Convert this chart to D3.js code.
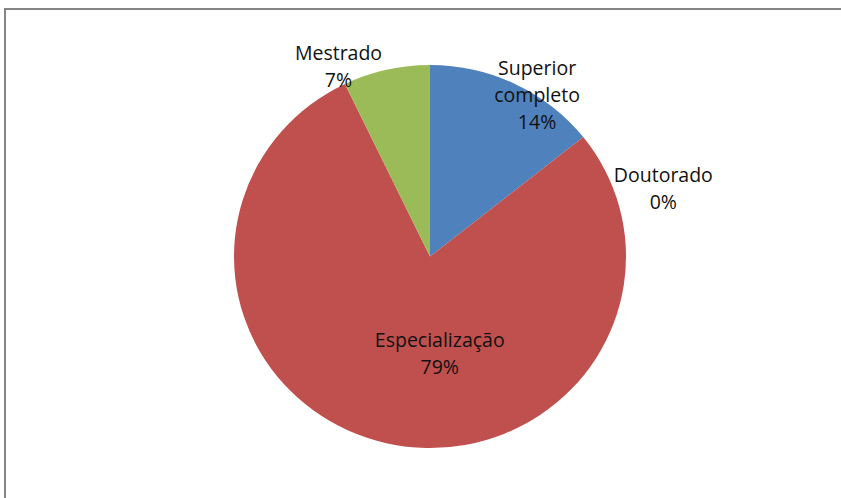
<!DOCTYPE html>
<html lang="pt">
<head>
<meta charset="UTF-8"/>
<title>Escolaridade</title>
<script src="https://d3js.org/d3.v7.min.js"></script>
<style>
  html, body { margin: 0; background: #fff; overflow: hidden; }
  svg { display: block; }
  text.label {
    font-family: "Open Sans", sans-serif;
    font-size: 19.5px;
    fill: #111;
  }
</style>
</head>
<body>
<svg width="841" height="498"></svg>
<script>
// data
const categories = ['Superior completo', 'Doutorado', 'Especialização', 'Mestrado'];
const counts = [2, 0, 11, 1];
const colors = ['#4F81BD', '#8064A2', '#C0504D', '#9BBB59'];

// label lines (how each label is broken)
const labelLines = [
  ['Superior', 'completo'],
  ['Doutorado'],
  ['Especialização'],
  ['Mestrado']
];
// label placement: distance from centre and a nudge, per slice
const labelPlace = [
  { r: 150, dx: 42, dy: -26 },
  { r: 200, dx: 77, dy: 57 },
  { r: 100, dx: 32, dy: 0 },
  { r: 200, dx: -47, dy: 5 }
];

const svg = d3.select('svg');

// chart frame
svg.append('rect')
  .attr('x', 5)
  .attr('y', 9)
  .attr('width', 900)
  .attr('height', 600)
  .attr('fill', 'none')
  .attr('stroke', '#858585')
  .attr('stroke-width', 2);

const cx = 430, cy = 256.5;
const radius = 196;

const data = categories.map((c, i) => ({ name: c, value: counts[i], color: colors[i] }));
const total = d3.sum(counts);

const pie = d3.pie()
  .sort(null)
  .value(d => d.value);

const arcs = pie(data);

const arc = d3.arc()
  .innerRadius(0)
  .outerRadius(radius);

// slightly squashed vertically like the original
const g = svg.append('g')
  .attr('transform', `translate(${cx}, ${cy}) scale(1, 0.977)`);

g.selectAll('path')
  .data(arcs)
  .enter()
  .append('path')
  .attr('d', arc)
  .attr('fill', d => d.data.color);

const labels = svg.append('g')
  .attr('transform', `translate(${cx}, ${cy})`);

const lineH = 27;

arcs.forEach((a, i) => {
  const p = labelPlace[i];
  const mid = (a.startAngle + a.endAngle) / 2;
  const x = Math.sin(mid) * p.r + p.dx;
  const y = -Math.cos(mid) * p.r + p.dy;
  const lines = labelLines[i].concat([Math.round(a.data.value / total * 100) + '%']);
  const t = labels.append('text')
    .attr('class', 'label')
    .attr('text-anchor', 'middle')
    .attr('x', x)
    .attr('y', y - (lines.length - 1) * lineH / 2);
  lines.forEach((ln, k) => {
    t.append('tspan')
      .attr('x', x)
      .attr('dy', k === 0 ? '0.35em' : lineH)
      .text(ln);
  });
});
</script>
</body>
</html>
